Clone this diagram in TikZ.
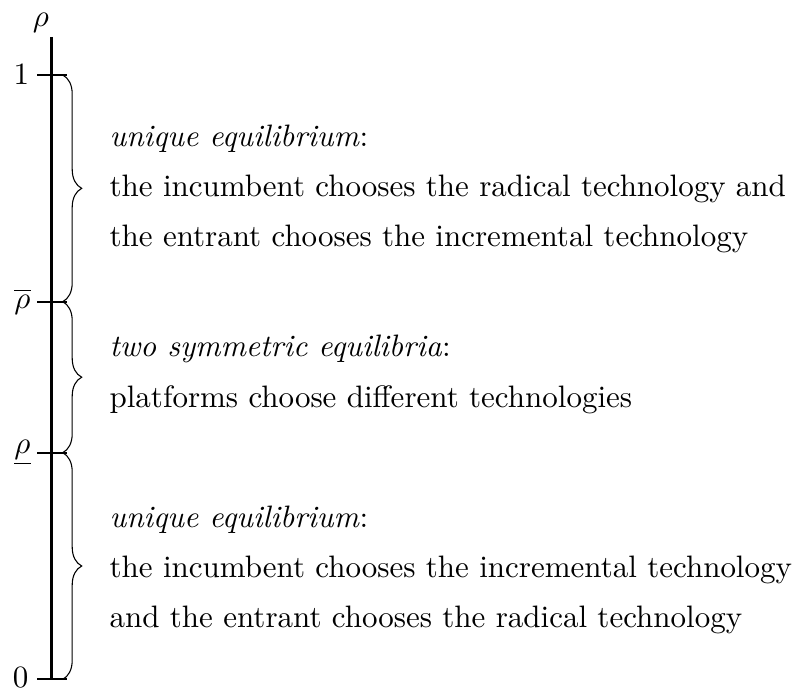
\documentclass[tikz,border=0pt]{standalone}
\usetikzlibrary{decorations.pathreplacing}
\begin{document}
\begin{tikzpicture}[x=0.3226pt,y=-0.3226pt,
  axisline/.style={line width=0.7pt},
  bracestyle/.style={decorate,decoration={brace,amplitude=19*0.3226pt},line width=0.35pt},
  ticklabel/.style={inner sep=0pt,font=\fontsize{10}{12}\selectfont},
  txt/.style={anchor=base west,inner sep=0pt,font=\fontsize{10}{12}\selectfont}]
\useasboundingbox (0,0) rectangle (796,690);
% axis
\coordinate (top) at (51.5,37);
\coordinate (bot) at (51.5,679.3);
\draw[axisline] (top) -- (bot);
% ticks
\coordinate (t1w) at (37,75);   \coordinate (t1e) at (67,75);
\coordinate (t2w) at (37,301.7); \coordinate (t2e) at (67,301.7);
\coordinate (t3w) at (37,452.7); \coordinate (t3e) at (67,452.7);
\coordinate (t4w) at (37,679.3); \coordinate (t4e) at (67,679.3);
\draw[axisline] (t1w) -- (t1e);
\draw[axisline] (t2w) -- (t2e);
\draw[axisline] (t3w) -- (t3e);
\draw[axisline] (t4w) -- (t4e);
% labels
\node[ticklabel] (rho) at (41,23) {$\rho$};
\node[ticklabel] (l1) at (21.5,75) {$1$};
\node[ticklabel] (l2) at (22.5,301.7) {$\overline{\rho}$};
\node[ticklabel] (l3) at (22.5,452.7) {$\underline{\rho}$};
\node[ticklabel] (l4) at (20.5,678) {$0$};
% braces
\coordinate (b1) at (62.7,75);
\coordinate (b2) at (62.7,301.7);
\coordinate (b3) at (62.7,452.7);
\coordinate (b4) at (62.7,679.3);
\draw[bracestyle] (b1) -- (b2);
\draw[bracestyle] (b2) -- (b3);
\draw[bracestyle] (b3) -- (b4);
% texts
\node[txt] (a1) at (109,146.7) {\textit{unique equilibrium}:};
\node[txt] (a2) at (109,197) {the incumbent chooses the radical technology and};
\node[txt] (a3) at (109,247) {the entrant chooses the incremental technology};
\node[txt] (b1t) at (109,357) {\textit{two symmetric equilibria}:};
\node[txt] (b2t) at (109,408) {platforms choose different technologies};
\node[txt] (c1) at (109,527) {\textit{unique equilibrium}:};
\node[txt] (c2) at (109,577) {the incumbent chooses the incremental technology};
\node[txt] (c3) at (109,627) {and the entrant chooses the radical technology};
\end{tikzpicture}
\end{document}
